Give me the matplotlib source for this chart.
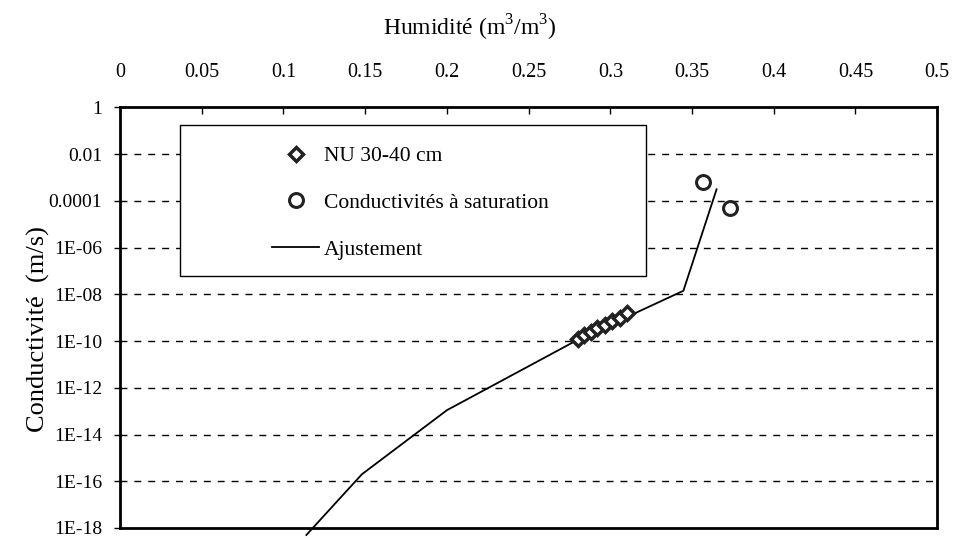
import numpy as np
import matplotlib.pyplot as plt
from matplotlib.patches import Rectangle

plt.rcParams['font.family'] = ['Liberation Serif', 'DejaVu Serif']
plt.rcParams['mathtext.fontset'] = 'custom'
plt.rcParams['mathtext.rm'] = 'Liberation Serif'

# mesures NU 30-40 cm (humidité, log10 K)
nu_theta = [0.280, 0.284, 0.288, 0.292, 0.297, 0.301, 0.306, 0.310]
nu_logk = [-9.90, -9.75, -9.60, -9.45, -9.30, -9.15, -9.00, -8.80]

# conductivités à saturation
sat_theta = [0.357, 0.373]
sat_logk = [-3.19, -4.32]

# courbe d'ajustement
fit_theta = [0.114, 0.148, 0.200, 0.280, 0.3447, 0.365]
fit_logk = [-18.3, -15.7, -12.96, -9.95, -7.85, -3.51]

x_ticks = [0, 0.05, 0.1, 0.15, 0.2, 0.25, 0.3, 0.35, 0.4, 0.45, 0.5]
x_labels = ['0', '0.05', '0.1', '0.15', '0.2', '0.25', '0.3', '0.35', '0.4', '0.45', '0.5']
y_ticks = [1, 1e-2, 1e-4, 1e-6, 1e-8, 1e-10, 1e-12, 1e-14, 1e-16, 1e-18]
y_labels = ['1', '0.01', '0.0001', '1E-06', '1E-08', '1E-10', '1E-12', '1E-14', '1E-16', '1E-18']

fig = plt.figure(figsize=(9.58, 5.38), dpi=100)
ax = fig.add_axes([0.1253, 0.0186, 0.853, 0.782])

ax.set_yscale('log')
ax.set_xlim(0, 0.5)
ax.set_ylim(1e-18, 1)

for yv in y_ticks[1:-1]:
    ax.axhline(yv, color='black', lw=1.0, ls=(0, (5, 5)), zorder=1)

ax.plot(fit_theta, 10.0 ** np.array(fit_logk), color='black', lw=1.3,
        label='Ajustement', clip_on=False, zorder=3)
ax.plot(nu_theta, 10.0 ** np.array(nu_logk), ls='none', marker='D', ms=7,
        mfc='white', mec='#222222', mew=2.5, label='NU 30-40 cm', zorder=4)
ax.plot(sat_theta, 10.0 ** np.array(sat_logk), ls='none', marker='o', ms=10,
        mfc='white', mec='#222222', mew=2.2, label='Conductivités à saturation', zorder=4)

ax.xaxis.tick_top()
ax.xaxis.set_label_position('top')
ax.set_xticks(x_ticks)
ax.set_xticklabels(x_labels, fontsize=14.5)
ax.tick_params(axis='x', direction='in', length=5, width=1, pad=18)
ax.set_yticks(y_ticks)
ax.set_yticklabels(y_labels, fontsize=14)
ax.yaxis.set_minor_locator(plt.NullLocator())
ax.tick_params(axis='y', direction='out', length=4, width=1, pad=9)

ax.set_xlabel('Humidité (m$^3$/m$^3$)', fontsize=17)
ax.xaxis.set_label_coords(0.428, 1.17)
ax.set_ylabel('Conductivité  (m/s)', fontsize=19)
ax.yaxis.set_label_coords(-0.086, 0.474)

for sp in ax.spines.values():
    sp.set_linewidth(2.0)

# cadre de la légende
ax.add_patch(Rectangle((0.0734, 0.600), 0.5706, 0.357, transform=ax.transAxes,
                       fill=True, facecolor='white', edgecolor='black', lw=1.0, zorder=5))
handles, labels = ax.get_legend_handles_labels()
order = [1, 2, 0]
leg = ax.legend([handles[i] for i in order], [labels[i] for i in order],
                loc='upper left', bbox_to_anchor=(0.186, 0.908), frameon=False,
                fontsize=15.5, handlelength=2.2, handletextpad=0.2,
                labelspacing=1.25, borderpad=0, borderaxespad=0)
leg.set_zorder(6)

fig.savefig('out.png', dpi=100)
